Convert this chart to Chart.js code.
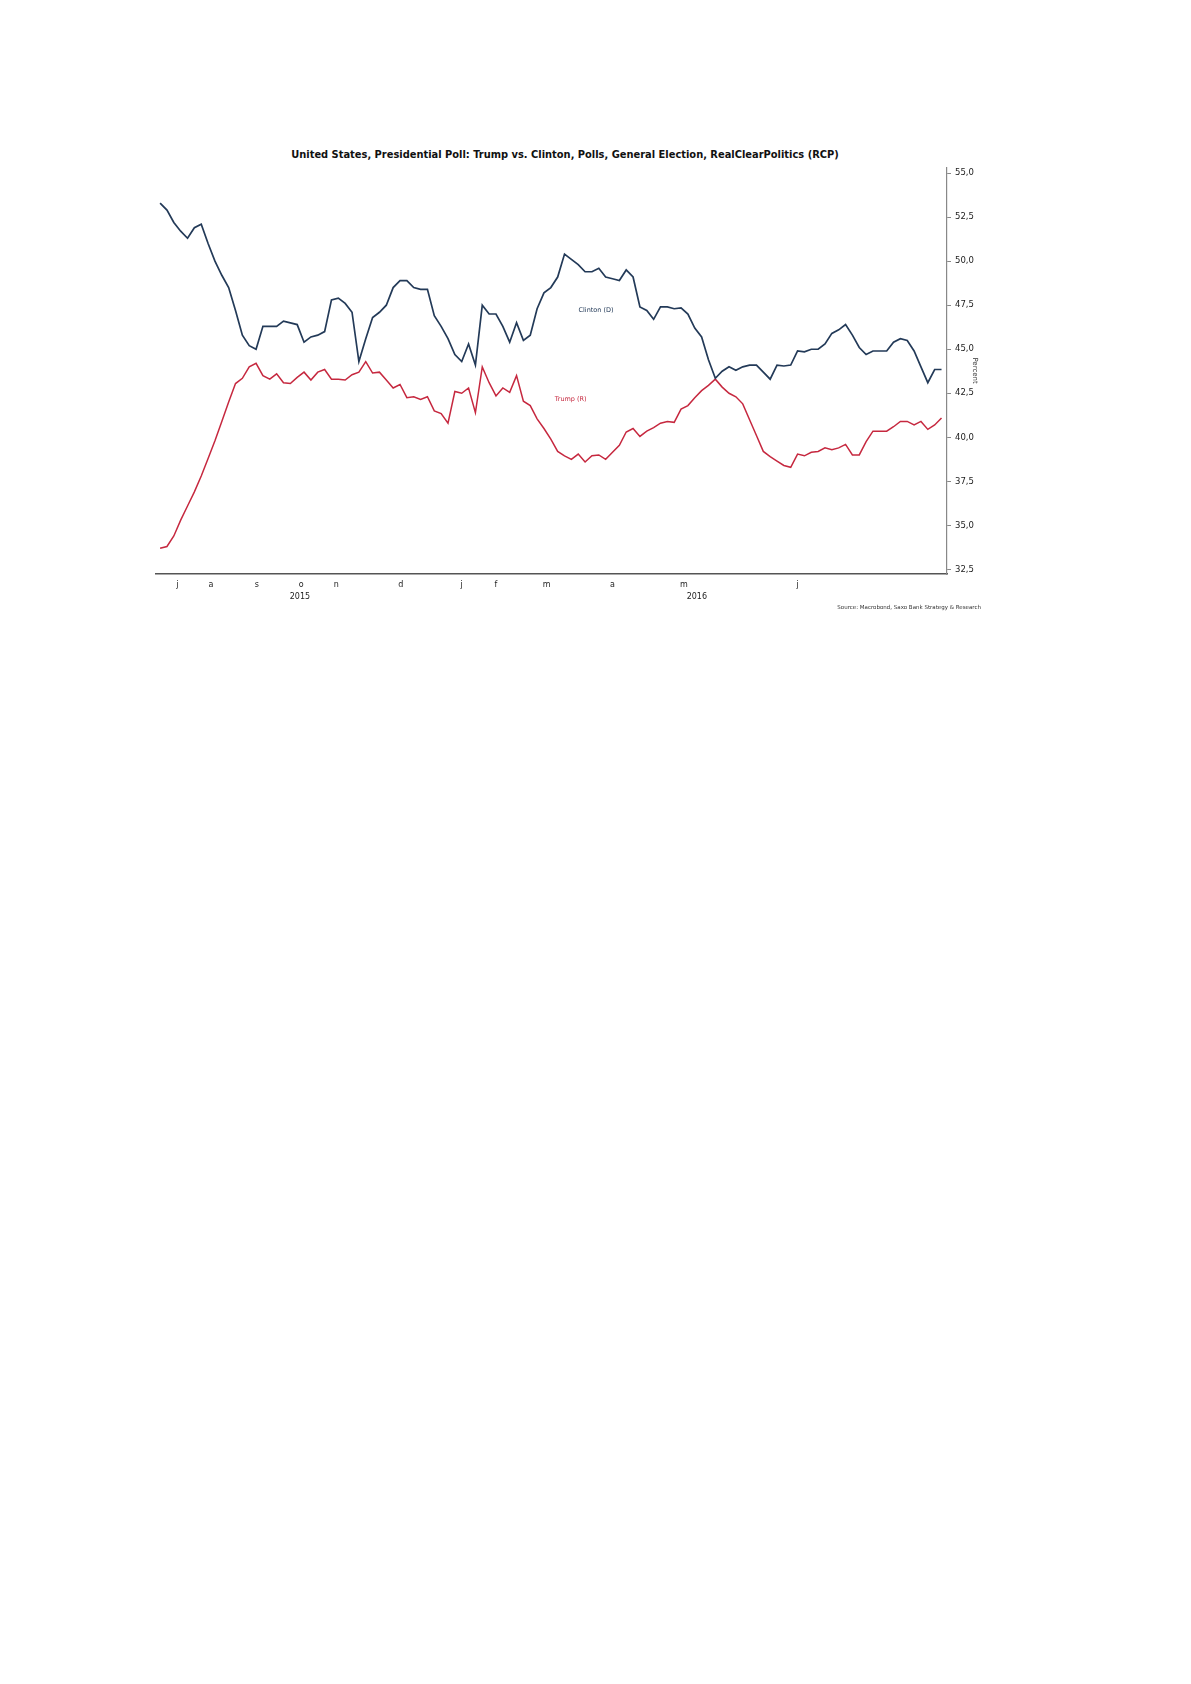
<!DOCTYPE html>
<html>
<head>
<meta charset="utf-8">
<title>Trump vs. Clinton, RCP</title>
<script src="https://cdn.jsdelivr.net/npm/chart.js@4.4.1/dist/chart.umd.min.js"></script>
<style>
  body { margin: 0; background: #fff; width: 1191px; height: 1684px; position: relative; font-family: "DejaVu Sans", Verdana, sans-serif; }
  #title { position: absolute; left: 565px; top: 149px; transform: translateX(-50%); font-size: 9.9px; font-weight: bold; white-space: nowrap; color: #111; }
  #chartBox { position: absolute; left: 150px; top: 158px; width: 835px; height: 452px; }
  #source { position: absolute; right: 210px; top: 604px; font-size: 5.5px; color: #333; white-space: nowrap; }
</style>
</head>
<body>
<div id="title">United States, Presidential Poll: Trump vs. Clinton, Polls, General Election, RealClearPolitics (RCP)</div>
<div id="chartBox"><canvas id="pollChart"></canvas></div>
<div id="source">Source: Macrobond, Saxo Bank Strategy &amp; Research</div>
<script>
// poll averages, one value per observation (Jun 2015 - Jul 2016)
const clinton = [
  53.3, 52.9, 52.2, 51.7, 51.3, 51.9, 52.1, 51.0, 50.0, 49.2,
  48.5, 47.2, 45.8, 45.2, 45.0, 46.3, 46.3, 46.3, 46.6, 46.5,
  46.4, 45.4, 45.7, 45.8, 46.0, 47.8, 47.9, 47.6, 47.1, 44.3,
  45.6, 46.8, 47.1, 47.5, 48.5, 48.9, 48.9, 48.5, 48.4, 48.4,
  46.9, 46.3, 45.6, 44.7, 44.3, 45.3, 44.1, 47.5, 47.0, 47.0,
  46.3, 45.4, 46.5, 45.5, 45.8, 47.3, 48.2, 48.5, 49.1, 50.4,
  50.1, 49.8, 49.4, 49.4, 49.6, 49.1, 49.0, 48.9, 49.5, 49.1,
  47.4, 47.2, 46.7, 47.4, 47.4, 47.3, 47.35, 47.0, 46.2, 45.7,
  44.4, 43.35, 43.75, 44.0, 43.8, 44.0, 44.1, 44.1, 43.7, 43.3,
  44.1, 44.05, 44.1, 44.9, 44.85, 45.0, 45.0, 45.3, 45.9, 46.1,
  46.4, 45.8, 45.1, 44.7, 44.9, 44.9, 44.9, 45.4, 45.6, 45.5,
  44.9, 44.0, 43.1, 43.85, 43.85
];
const trump = [
  33.7, 33.8, 34.4, 35.3, 36.1, 36.9, 37.8, 38.8, 39.8, 40.9,
  42.0, 43.05, 43.35, 44.0, 44.2, 43.5, 43.3, 43.6, 43.1, 43.05,
  43.4, 43.7, 43.25, 43.7, 43.85, 43.3, 43.3, 43.25, 43.55, 43.7,
  44.3, 43.65, 43.7, 43.25, 42.8, 43.0, 42.25, 42.3, 42.15, 42.3,
  41.5, 41.35, 40.8, 42.6, 42.5, 42.8, 41.4, 44.0, 43.1, 42.35,
  42.8, 42.55, 43.5, 42.05, 41.8, 41.05, 40.5, 39.9, 39.2, 38.95,
  38.75, 39.05, 38.6, 38.95, 39.0, 38.75, 39.15, 39.55, 40.3, 40.5,
  40.05, 40.35, 40.55, 40.8, 40.9, 40.85, 41.6, 41.8, 42.25, 42.65,
  42.95, 43.3, 42.85, 42.5, 42.3, 41.9, 41.0, 40.1, 39.2, 38.9,
  38.65, 38.4, 38.3, 39.05, 38.95, 39.15, 39.2, 39.4, 39.3, 39.4,
  39.6, 39.0, 39.0, 39.75, 40.35, 40.35, 40.35, 40.6, 40.9, 40.9,
  40.7, 40.9, 40.45, 40.7, 41.1
];

// month letters and where they sit along the observation index
const monthLabels = ["j", "a", "s", "o", "n", "d", "j", "f", "m", "a", "m", "j"];
const monthAt = [2.5, 7.4, 14.1, 20.6, 25.7, 35.1, 44.0, 49.0, 56.4, 66.0, 76.4, 93.0];
const yearLabels = ["2015", "2016"];
const yearAt = [20.4, 78.3];

const yTicks = [32.5, 35.0, 37.5, 40.0, 42.5, 45.0, 47.5, 50.0, 52.5, 55.0];

// series name tags drawn inside the plot: [index, value]
const clintonTag = [63.6, 47.2];
const trumpTag = [59.9, 42.16];

const FONT = "DejaVu Sans";

const seriesTags = {
  id: "seriesTags",
  afterDatasetsDraw(chart) {
    const { ctx, scales: { x, y } } = chart;
    ctx.save();
    ctx.font = `6.5px "${FONT}"`;
    ctx.textAlign = "center";
    ctx.textBaseline = "middle";
    chart.data.datasets.forEach((ds) => {
      ctx.fillStyle = ds.borderColor;
      ctx.fillText(ds.label, x.getPixelForValue(ds.tagAt[0]), y.getPixelForValue(ds.tagAt[1]));
    });
    ctx.restore();
  },
};

const ctx = document.getElementById("pollChart").getContext("2d");
new Chart(ctx, {
  type: "line",
  data: {
    datasets: [
      {
        label: "Clinton (D)",
        data: clinton.map((v, i) => ({ x: i, y: v })),
        borderColor: "#233a58",
        borderWidth: 1.7,
        tagAt: clintonTag,
      },
      {
        label: "Trump (R)",
        data: trump.map((v, i) => ({ x: i, y: v })),
        borderColor: "#c6283f",
        borderWidth: 1.5,
        tagAt: trumpTag,
      },
    ],
  },
  options: {
    responsive: true,
    maintainAspectRatio: false,
    animation: false,
    layout: { padding: { top: 8, left: 6, right: 0, bottom: 0 } },
    elements: { point: { radius: 0 }, line: { tension: 0 } },
    plugins: { legend: { display: false }, tooltip: { enabled: false } },
    scales: {
      x: {
        type: "linear",
        position: "bottom",
        min: -0.6,
        max: 114.8,
        grid: { display: true, drawOnChartArea: false, drawTicks: false },
        border: { display: true, color: "#555", width: 1.5 },
        afterBuildTicks: (s) => { s.ticks = monthAt.map((v) => ({ value: v })); },
        afterFit: (s) => { s.height = 18; },
        ticks: {
          autoSkip: false,
          maxRotation: 0,
          padding: 6,
          color: "#222",
          font: { family: FONT, size: 8 },
          callback: (v, i) => monthLabels[i],
        },
      },
      years: {
        type: "linear",
        position: "bottom",
        weight: 1,
        min: -0.6,
        max: 114.8,
        grid: { display: false },
        border: { display: false },
        afterBuildTicks: (s) => { s.ticks = yearAt.map((v) => ({ value: v })); },
        afterFit: (s) => { s.height = 18; },
        ticks: {
          autoSkip: false,
          maxRotation: 0,
          padding: -8,
          color: "#222",
          font: { family: FONT, size: 8 },
          callback: (v, i) => yearLabels[i],
        },
      },
      y: {
        position: "right",
        min: 32.24,
        max: 55.34,
        grid: { display: true, drawOnChartArea: false, drawTicks: true, tickLength: 4, color: "#888" },
        border: { display: true, color: "#888", width: 1.2 },
        afterBuildTicks: (s) => { s.ticks = yTicks.map((v) => ({ value: v })); },
        afterFit: (s) => { s.width = 38; },
        ticks: {
          padding: 4,
          color: "#222",
          font: { family: FONT, size: 8.5 },
          callback: (v) => v.toFixed(1).replace(".", ","),
        },
        title: {
          display: true,
          text: "Percent",
          color: "#333",
          padding: { top: 6, bottom: 0 },
          font: { family: FONT, size: 7 },
        },
      },
    },
  },
  plugins: [seriesTags],
});
</script>
</body>
</html>
